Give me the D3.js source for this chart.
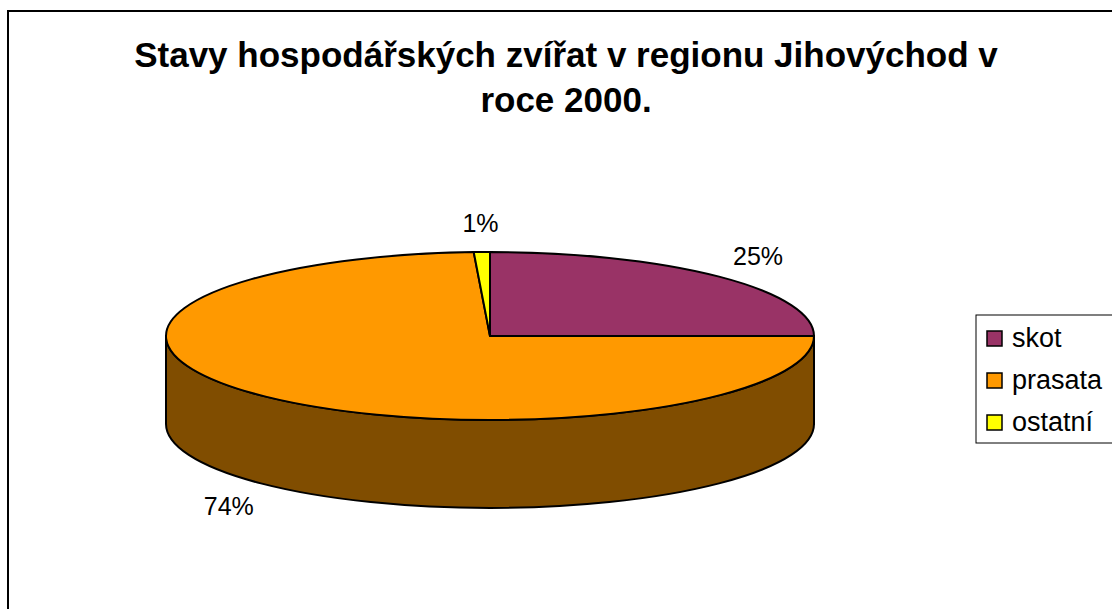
<!DOCTYPE html>
<html>
<head>
<meta charset="utf-8">
<script src="https://cdn.jsdelivr.net/npm/d3@7"></script>
<style>
  body { margin: 0; background: #fff; }
  svg { display: block; font-family: Arial, "Liberation Sans", sans-serif; }
</style>
</head>
<body>
<div id="chart"></div>
<script>
const categories = ["skot", "prasata", "ostatní"];
const shares = [25.0, 74.2, 0.8];
const colors = ["#993366", "#FF9900", "#FFFF00"];
const titleLines = ["Stavy hospodářských zvířat v regionu Jihovýchod v", "roce 2000."];

const W = 1112, H = 609;
const cx = 490, cy = 336, rx = 324, ry = 84, depth = 88;

const svg = d3.select("#chart").append("svg")
  .attr("width", W).attr("height", H);

// chart area frame (runs past the right and bottom edges)
svg.append("rect")
  .attr("x", 8).attr("y", 11)
  .attr("width", W + 20).attr("height", H + 20)
  .attr("fill", "#fff").attr("stroke", "#000").attr("stroke-width", 2);

// title
svg.append("text")
  .attr("text-anchor", "middle")
  .attr("font-size", 35).attr("font-weight", "bold")
  .selectAll("tspan")
  .data(titleLines)
  .join("tspan")
  .attr("x", 566)
  .attr("y", (d, i) => 67 + i * 45)
  .text(d => d);

const pie = d3.pie().sort(null).value(d => d)(shares);

const pt = (a, dy = 0) => [cx + rx * Math.sin(a), cy - ry * Math.cos(a) + dy];

// darker shade for the side wall
const darker = c => {
  const r = d3.rgb(c);
  return d3.rgb(r.r / 2, r.g / 2, r.b / 2).formatHex();
};

// side walls: only the front half (pi/2 .. 3pi/2) is visible
const walls = pie.map((p, i) => {
  const a0 = Math.max(p.startAngle, Math.PI / 2);
  const a1 = Math.min(p.endAngle, Math.PI * 3 / 2);
  if (a1 <= a0) return null;
  const [x0, y0] = pt(a0), [x1, y1] = pt(a1);
  const large = a1 - a0 > Math.PI ? 1 : 0;
  const d = `M${x0},${y0} A${rx},${ry} 0 ${large} 1 ${x1},${y1}` +
    ` L${x1},${y1 + depth} A${rx},${ry} 0 ${large} 0 ${x0},${y0 + depth} Z`;
  return { d, color: darker(colors[i]) };
}).filter(Boolean);

svg.append("g").selectAll("path")
  .data(walls)
  .join("path")
  .attr("d", d => d.d)
  .attr("fill", d => d.color)
  .attr("stroke", "#000").attr("stroke-width", 2)
  .attr("stroke-linejoin", "round");

// top faces
svg.append("g").selectAll("path")
  .data(pie)
  .join("path")
  .attr("d", p => {
    const [x0, y0] = pt(p.startAngle), [x1, y1] = pt(p.endAngle);
    const large = p.endAngle - p.startAngle > Math.PI ? 1 : 0;
    return `M${cx},${cy} L${x0},${y0} A${rx},${ry} 0 ${large} 1 ${x1},${y1} Z`;
  })
  .attr("fill", (p, i) => colors[i])
  .attr("stroke", "#000").attr("stroke-width", 2)
  .attr("stroke-linejoin", "round");

// percentage labels
svg.append("g").selectAll("text")
  .data(pie)
  .join("text")
  .attr("x", p => {
    const a = (p.startAngle + p.endAngle) / 2;
    return cx + rx * 1.17 * Math.sin(a);
  })
  .attr("y", p => {
    const a = (p.startAngle + p.endAngle) / 2;
    return cy - ry * 1.35 * Math.cos(a) + (Math.cos(a) < 0 ? depth : 0);
  })
  .attr("text-anchor", "middle")
  .attr("dominant-baseline", "central")
  .attr("font-size", 25)
  .text(p => Math.round(p.value) + "%");

// legend
const legend = svg.append("g");
legend.append("rect")
  .attr("x", 976).attr("y", 315)
  .attr("width", 160).attr("height", 128)
  .attr("fill", "#fff").attr("stroke", "#000").attr("stroke-width", 1);

const items = legend.selectAll("g.item")
  .data(categories)
  .join("g")
  .attr("class", "item")
  .attr("transform", (d, i) => `translate(987, ${331 + i * 42})`);

items.append("rect")
  .attr("width", 15).attr("height", 15)
  .attr("fill", (d, i) => colors[i])
  .attr("stroke", "#000").attr("stroke-width", 1.5);

items.append("text")
  .attr("x", 25).attr("y", 16)
  .attr("font-size", 27)
  .text(d => d);
</script>
</body>
</html>
